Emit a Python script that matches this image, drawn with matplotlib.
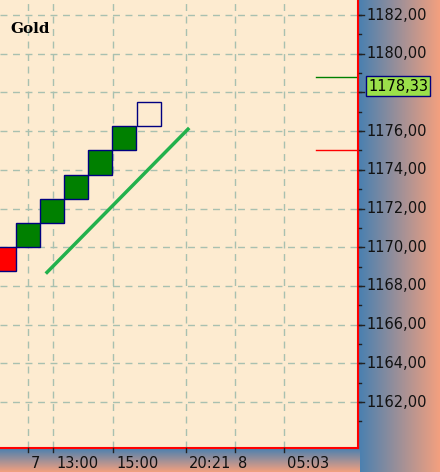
import matplotlib
matplotlib.use("Agg")
import matplotlib.pyplot as plt
import numpy as np
from matplotlib.patches import Rectangle

box_size = 1.25
box_bottoms = [1168.75, 1170.0, 1171.25, 1172.5, 1173.75, 1175.0, 1176.25]
box_colors = ["red", "green", "green", "green", "green", "green", "none"]
box_lefts = [-8, 16, 40, 64, 88, 112, 137]
trend_x = [47, 188]
trend_y = [1168.7, 1176.1]
time_ticks = [28, 53, 113, 186, 235, 284]
time_labels = ["7", "13:00", "15:00", "20:21", "8", "05:03"]
price_ticks = [1162, 1164, 1166, 1168, 1170, 1172, 1174, 1176, 1180, 1182]
covered_tick = 1178
last_price = 1178.33
level_green = 1178.8
level_red = 1175.0

W, H = 440, 472
fig = plt.figure(figsize=(W/100, H/100), dpi=100)
bg = "#fdebd0"
ymin = 1182 - (448-15)/19.35
ymax = 1182 + 15/19.35

grad = np.linspace(0, 1, 100)
cmap = matplotlib.colors.LinearSegmentedColormap.from_list("g", ["#4a80b0", "#f3a07f"])
axr = fig.add_axes([359/W, 0, 81/W, 1])
axr.imshow(np.tile(grad, (10, 1)), cmap=cmap, aspect="auto", extent=[0, 1, 0, 1])
axr.axis("off")
axb = fig.add_axes([0, 0, 359/W, 24/H])
axb.imshow(np.tile(grad, (10, 1)).T, cmap=cmap, aspect="auto", extent=[0, 1, 0, 1])
axb.axis("off")

ax = fig.add_axes([0, 24/H, 358/W, 448/H])
ax.set_facecolor(bg)
ax.set_xlim(0, 358)
ax.set_ylim(ymin, ymax)
for t in price_ticks + [covered_tick]:
    ax.axhline(t, color="#a8c0b0", ls=(0, (5, 4)), lw=1, zorder=1)
for t in time_ticks:
    ax.axvline(t, color="#a8c0b0", ls=(0, (5, 4)), lw=1, zorder=1)
for b, c, l in zip(box_bottoms, box_colors, box_lefts):
    ax.add_patch(Rectangle((l, b), 24, box_size, facecolor=c if c != "none" else bg,
                           edgecolor="navy", lw=1, zorder=3))
ax.plot(trend_x, trend_y, color="#22b14c", lw=2.5, zorder=4)
ax.plot([316, 356], [level_green]*2, color="green", lw=1)
ax.plot([316, 356], [level_red]*2, color="red", lw=1)
ax.text(10, 1181.3, "Gold", fontsize=11, fontweight="bold", family="DejaVu Serif", va="center")
ax.set_xticks([]); ax.set_yticks([])
for s in ["top", "left"]:
    ax.spines[s].set_visible(False)
ax.spines["right"].set_color("red"); ax.spines["bottom"].set_color("red")
ax.spines["right"].set_linewidth(1.5); ax.spines["bottom"].set_linewidth(1.5)

def fy_of(t):
    return (24 + (t - ymin) / (ymax - ymin) * 448) / H

for t in price_ticks:
    fig.text(366/W, fy_of(t), f"{t:.2f}".replace(".", ","), fontsize=10.5, va="center", ha="left", color="#111")
for t in price_ticks + [covered_tick]:
    fig.lines.append(plt.Line2D([359/W, 364/W], [fy_of(t)]*2, color="#222", lw=1, transform=fig.transFigure))
for t in np.arange(1161, 1183, 1.0):
    fig.lines.append(plt.Line2D([359/W, 361/W], [fy_of(t)]*2, color="#222", lw=1, transform=fig.transFigure))
for t, lab in zip(time_ticks, time_labels):
    fig.lines.append(plt.Line2D([t/W, t/W], [20/H, 24/H], color="#222", lw=1, transform=fig.transFigure))
    fig.text((t+3)/W, 9/H, lab, fontsize=10.5, va="center", ha="left", color="#111")
fig.text(368/W, fy_of(last_price), f"{last_price:.2f}".replace(".", ","), fontsize=10.5, va="center", ha="left",
         bbox=dict(boxstyle="square,pad=0.15", facecolor="#9be04a", edgecolor="navy", lw=1))
fig.savefig("out.png", dpi=100, facecolor=bg)
